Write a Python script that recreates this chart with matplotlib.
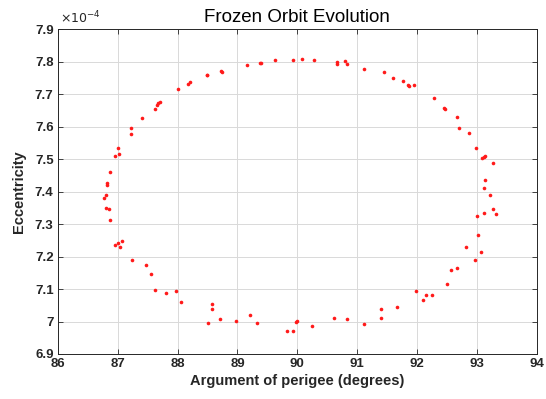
import matplotlib
matplotlib.use("AGG")

import matplotlib.pyplot as plt
import matplotlib.ticker as mticker
import numpy as np

# ── Frozen orbit samples: argument of perigee (deg) vs eccentricity (x1e-4) ──
arg_perigee = np.array([
    # upper-left arc
    86.82, 86.83, 86.87, 86.96, 87.00, 87.02, 87.23, 87.23, 87.40, 87.62,
    87.65, 87.67, 87.70, 88.01, 88.18, 88.21, 88.49, 88.50, 88.73, 88.75,
    89.16, 89.37, 89.39, 89.62, 89.92,
    # upper-right arc
    90.08, 90.28, 90.67, 90.67, 90.79, 90.83, 91.12, 91.44, 91.59, 91.77,
    91.84, 91.86, 91.95, 92.28, 92.45, 92.46, 92.66, 92.69, 92.87, 92.99,
    93.09, 93.11, 93.13, 93.26, 93.13, 93.12,
    # lower-left arc
    86.80, 86.77, 86.81, 86.85, 86.87, 86.96, 87.00, 87.04, 87.07, 87.24,
    87.47, 87.56, 87.62, 87.81, 87.98, 88.06, 88.51, 88.58, 88.58, 88.71,
    88.98, 89.21, 89.32, 89.82, 89.92, 89.98, 89.99,
    # lower-right arc
    90.24, 90.61, 90.83, 91.12, 91.39, 91.40, 91.67, 91.98, 92.10, 92.14,
    92.25, 92.49, 92.56, 92.67, 92.82, 92.96, 93.00, 93.02, 93.07, 93.11,
    93.22, 93.27, 93.31,
])

ecc_e4 = np.array([
    7.427, 7.420, 7.459, 7.511, 7.533, 7.517, 7.577, 7.595, 7.628, 7.653,
    7.668, 7.672, 7.675, 7.715, 7.730, 7.739, 7.760, 7.758, 7.773, 7.769,
    7.790, 7.795, 7.796, 7.805, 7.806,
    7.810, 7.805, 7.798, 7.792, 7.803, 7.793, 7.778, 7.767, 7.751, 7.741,
    7.728, 7.724, 7.727, 7.688, 7.659, 7.656, 7.631, 7.595, 7.581, 7.534,
    7.505, 7.507, 7.509, 7.488, 7.436, 7.411,
    7.391, 7.381, 7.349, 7.347, 7.312, 7.235, 7.241, 7.228, 7.248, 7.189,
    7.174, 7.147, 7.098, 7.087, 7.094, 7.059, 6.996, 7.054, 7.039, 7.009,
    7.003, 7.020, 6.996, 6.970, 6.970, 7.000, 7.002,
    6.986, 7.012, 7.007, 6.991, 7.011, 7.040, 7.044, 7.095, 7.067, 7.083,
    7.083, 7.117, 7.160, 7.165, 7.228, 7.191, 7.324, 7.265, 7.215, 7.334,
    7.390, 7.345, 7.331,
])

x_ticks = np.arange(86, 95, 1)
y_ticks = np.round(np.arange(6.9, 7.95, 0.1), 1)

plt.rcParams["font.family"] = ["Liberation Sans", "DejaVu Sans"]

fig = plt.figure(figsize=(5.46, 3.99), dpi=100, facecolor="white")
ax = fig.add_axes([0.1057, 0.1128, 0.8778, 0.8138])

ax.plot(arg_perigee, ecc_e4, linestyle="none", marker="o", markersize=2.6,
        color="#ff1a1a", markeredgewidth=0, zorder=3)

ax.set_xlim(86, 94)
ax.set_ylim(6.9, 7.9)
ax.set_xticks(x_ticks)
ax.set_yticks(y_ticks)
ax.yaxis.set_major_formatter(mticker.FuncFormatter(lambda v, _: f"{v:g}"))

ax.grid(True, color="#d9d9d9", linewidth=0.7)
ax.set_axisbelow(True)
ax.tick_params(direction="in", top=True, right=True, length=3.5, width=0.6,
               color="#262626", labelsize=9.5, labelcolor="#262626", pad=3)
for lab in ax.get_xticklabels() + ax.get_yticklabels():
    lab.set_fontweight("bold")
for sp in ax.spines.values():
    sp.set_color("#262626")
    sp.set_linewidth(0.7)

ax.text(0.005, 1.01, r"$\times10^{-4}$", transform=ax.transAxes,
        fontsize=9, color="#262626", ha="left", va="bottom")

ax.set_title("Frozen Orbit Evolution", fontsize=13.5, color="#000000", pad=5)
ax.set_xlabel("Argument of perigee (degrees)", fontsize=10.5,
              fontweight="bold", color="#262626", labelpad=3)
ax.set_ylabel("Eccentricity", fontsize=10.5, fontweight="bold",
              color="#262626", labelpad=6)

fig.savefig("out.png", dpi=100, facecolor="white")
